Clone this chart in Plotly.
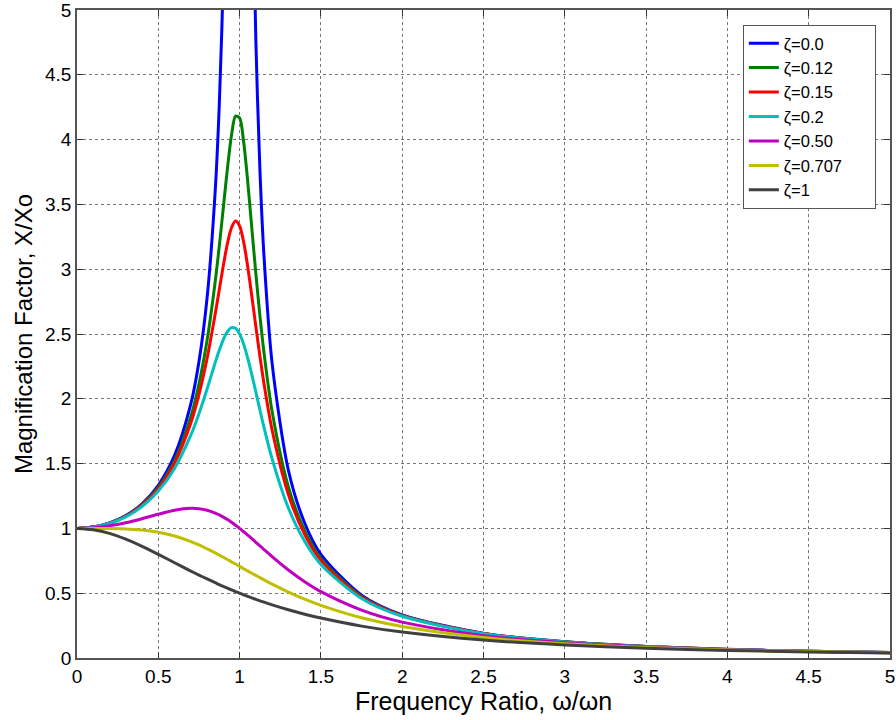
import plotly.graph_objects as go

# frequency ratio samples (w/wn)
ratio = [0, 0.1, 0.2, 0.3, 0.4, 0.5, 0.6, 0.7, 0.75, 0.8, 0.85, 0.875, 0.9,
         0.925, 0.95, 0.975, 1.0, 1.025, 1.05, 1.075, 1.1, 1.125, 1.15, 1.2,
         1.3, 1.4, 1.5, 1.75, 2.0, 2.5, 3.0, 3.5, 4.0, 4.5, 5.0]

# magnification factor X/Xo, one list per damping ratio
mag_z000 = [1, 1.010, 1.042, 1.099, 1.190, 1.333, 1.563, 1.961, 2.286, 2.778,
            3.604, 4.267, 5.263, 6.926, 10.26, 20.25, None, 19.75, 9.756, 6.426,
            4.762, 3.765, 3.101, 2.273, 1.449, 1.042, 0.800, 0.485, 0.333,
            0.190, 0.125, 0.0889, 0.0667, 0.0519, 0.0417]
mag_z012 = [1, 1.010, 1.040, 1.095, 1.183, 1.317, 1.524, 1.862, 2.114, 2.451,
            2.904, 3.178, 3.475, 3.776, 4.032, 4.181, 4.167, 3.982, 3.676, 3.319,
            2.965, 2.640, 2.356, 1.902, 1.321, 0.983, 0.769, 0.475, 0.329,
            0.189, 0.1245, 0.0886, 0.0665, 0.0519, 0.0416]
mag_z015 = [1, 1.010, 1.040, 1.094, 1.179, 1.307, 1.504, 1.813, 2.033, 2.311,
            2.654, 2.842, 3.029, 3.197, 3.320, 3.371, 3.333, 3.209, 3.019, 2.793,
            2.557, 2.328, 2.117, 1.759, 1.262, 0.954, 0.753, 0.470, 0.327,
            0.189, 0.124, 0.0885, 0.0665, 0.0518, 0.0416]
mag_z020 = [1, 1.009, 1.038, 1.089, 1.169, 1.288, 1.463, 1.719, 1.885, 2.076,
            2.279, 2.374, 2.457, 2.518, 2.549, 2.544, 2.500, 2.421, 2.313, 2.187,
            2.051, 1.914, 1.780, 1.536, 1.157, 0.900, 0.721, 0.459, 0.322,
            0.187, 0.124, 0.0882, 0.0663, 0.0517, 0.0415]
mag_z050 = [1, 1.005, 1.020, 1.044, 1.075, 1.109, 1.140, 1.155, 1.152, 1.140,
            1.118, 1.104, 1.087, 1.068, 1.047, 1.024, 1.000, 0.974, 0.948, 0.921,
            0.893, 0.865, 0.837, 0.782, 0.679, 0.589, 0.512, 0.370, 0.277,
            0.172, 0.117, 0.0849, 0.0644, 0.0506, 0.0408]
mag_z0707 = [1, 1.000, 0.999, 0.996, 0.987, 0.970, 0.941, 0.898, 0.872, 0.842,
             0.811, 0.794, 0.777, 0.760, 0.742, 0.725, 0.707, 0.689, 0.672, 0.654,
             0.637, 0.620, 0.603, 0.570, 0.509, 0.454, 0.406, 0.310, 0.243,
             0.158, 0.110, 0.0814, 0.0624, 0.0493, 0.0400]
mag_z100 = [1, 0.990, 0.962, 0.917, 0.862, 0.800, 0.735, 0.671, 0.640, 0.610,
            0.581, 0.566, 0.552, 0.539, 0.526, 0.513, 0.500, 0.488, 0.476, 0.464,
            0.452, 0.441, 0.431, 0.410, 0.372, 0.338, 0.308, 0.246, 0.200,
            0.138, 0.100, 0.0755, 0.0588, 0.0471, 0.0385]

labels = ["ζ=0.0", "ζ=0.12", "ζ=0.15", "ζ=0.2", "ζ=0.50", "ζ=0.707", "ζ=1"]
series = [mag_z000, mag_z012, mag_z015, mag_z020, mag_z050, mag_z0707, mag_z100]
colors = ["#0000FF", "#008000", "#FF0000", "#00BFBF", "#BF00BF", "#BFBF00", "#404040"]

fig = go.Figure()
for name, ys, c in zip(labels, series, colors):
    fig.add_trace(go.Scatter(
        x=ratio, y=ys, mode="lines",
        name=name + "\u00a0" * 6,  # pad so the legend box is as wide as MATLAB's
        line=dict(color=c, width=3, shape="spline", smoothing=0.8),
    ))

font_family = "Liberation Sans, Arial, sans-serif"
font_dict = dict(family=font_family, size=19, color="black")

fig.update_layout(
    width=896, height=720,
    font=font_dict,
    plot_bgcolor="white",
    paper_bgcolor="white",
    margin=dict(l=77, r=6, t=10, b=62),
    legend=dict(
        x=0.819, y=0.977, xanchor="left", yanchor="top",
        bgcolor="white", bordercolor="#555555", borderwidth=1,
        font=dict(family=font_family, size=16.5, color="black"),
        tracegroupgap=0,
    ),
)

axis_style = dict(
    showline=True, linecolor="#555555", linewidth=1.5, mirror="allticks",
    ticks="inside", ticklen=6, tickcolor="#333333", tickwidth=1,
    showgrid=True, gridcolor="#777777", griddash="dot", gridwidth=1,
    zeroline=False, dtick=0.5, tickfont=font_dict, automargin=False,
    ticklabeloverflow="allow",
)

fig.update_xaxes(range=[0, 5], title=dict(text="Frequency Ratio, ω/ωn",
                 font=dict(family=font_family, size=25), standoff=2), **axis_style)
fig.update_yaxes(range=[0, 5], title=dict(text="Magnification Factor, X/Xo",
                 font=dict(family=font_family, size=24), standoff=6), **axis_style)

# drop the default 8px body margin so the figure fills the window
fig.write_html("out.html", config={"displayModeBar": False},
               post_script="document.body.style.margin='0';")
